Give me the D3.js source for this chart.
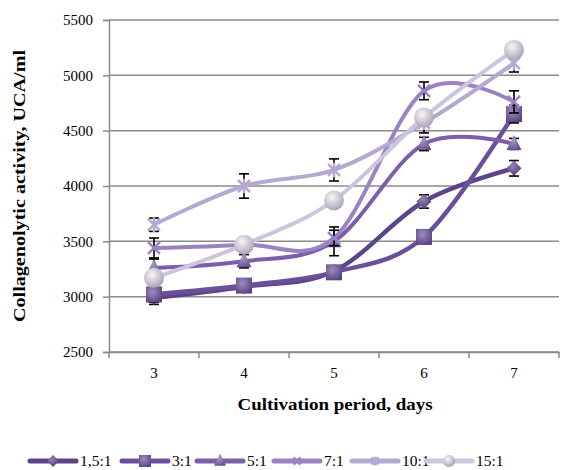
<!DOCTYPE html>
<html><head><meta charset="utf-8">
<script src="https://cdn.jsdelivr.net/npm/d3@7"></script>
<style>body{margin:0;background:#fff}svg{display:block}svg text{font-family:"Liberation Serif","Times New Roman","DejaVu Serif",serif !important;fill:#000}</style>
</head><body><svg id="c" width="562" height="470" font-family="Liberation Serif"></svg>
<script>
const days = [3, 4, 5, 6, 7];
const seriesNames = ["1,5:1", "3:1", "5:1", "7:1", "10:1", "15:1"];
const v15 = [2990, 3090, 3230, 3860, 4160];
const v3 = [3020, 3100, 3220, 3540, 4650];
const v5 = [3260, 3320, 3500, 4380, 4380];
const v7 = [3440, 3470, 3530, 4860, 4760];
const v10 = [3650, 4000, 4145, 4570, 5110];
const v15b = [3170, 3470, 3870, 4620, 5230];
const e15 = [60, 50, 50, 60, 70];
const e3 = [70, 50, 50, 60, 80];
const e5 = [80, 60, 130, 60, 50];
const e7 = [90, 70, 70, 80, 100];
const e10 = [60, 110, 100, 90, 80];
const e15b = [60, 60, 50, 60, 70];
const yTicks = [2500, 3000, 3500, 4000, 4500, 5000, 5500];

const values = [v15, v3, v5, v7, v10, v15b];
const errors = [e15, e3, e5, e7, e10, e15b];
const colors = ["#5c4488", "#6a4f9b", "#7b5fab", "#9983c1", "#b6a9d1", "#cdc5de"];
const markers = ["diamond", "square", "triangle", "x", "star", "circle"];
const widths = [4.5, 4.5, 4, 4, 4, 4];

const svg = d3.select("#c");
const L = 109, R = 559, T = 20, B = 352;
const x = d3.scaleBand().domain(days).range([L, R]);
const y = d3.scaleLinear().domain([2500, 5500]).range([B, T]);
const cx = d => x(d) + x.bandwidth() / 2;

const defs = svg.append("defs");
colors.forEach((c, i) => {
  const g = defs.append("radialGradient").attr("id", "g" + i).attr("cx", "40%").attr("cy", "35%").attr("r", "70%");
  g.append("stop").attr("offset", "0%").attr("stop-color", d3.interpolateRgb(c, "#fff")(i === 5 ? 0.85 : 0.35));
  g.append("stop").attr("offset", "100%").attr("stop-color", d3.color(c).darker(i === 5 ? 0.6 : 0.5));
});

// gridlines
svg.append("g").selectAll("line").data(yTicks).join("line")
  .attr("x1", L).attr("x2", R).attr("y1", d => y(d)).attr("y2", d => y(d))
  .attr("stroke", "#8a8a8a").attr("stroke-width", 1.5);

// axes
const ya = svg.append("g").attr("transform", `translate(${L},0)`)
  .call(d3.axisLeft(y).tickValues(yTicks).tickFormat(d3.format("d")).tickSize(6).tickPadding(10));
ya.attr("font-family", null);
ya.select(".domain").attr("stroke", "#8a8a8a").attr("stroke-width", 1.5);
ya.selectAll(".tick line").attr("stroke", "#8a8a8a").attr("stroke-width", 1.5);
ya.selectAll("text").style("font-size", "15px").attr("fill", "#000");

const xa = svg.append("g").attr("transform", `translate(0,${B})`)
  .call(d3.axisBottom(x).tickSize(0).tickPadding(15));
xa.attr("font-family", null);
xa.select(".domain").attr("stroke", "#8a8a8a").attr("stroke-width", 1.5);
xa.selectAll("text").style("font-size", "15px").attr("fill", "#000");
const bounds = days.map(d => x(d)).concat([R]);
svg.append("g").selectAll("line").data(bounds).join("line")
  .attr("x1", d => d).attr("x2", d => d).attr("y1", B).attr("y2", B + 6)
  .attr("stroke", "#8a8a8a").attr("stroke-width", 1.5);

// titles
svg.append("text").attr("x", 335).attr("y", 410).attr("text-anchor", "middle")
  .attr("textLength", 195).attr("lengthAdjust", "spacingAndGlyphs")
  .style("font-size", "16px").style("font-weight", "bold").text("Cultivation period, days");
svg.append("text").attr("transform", "translate(25,186) rotate(-90)").attr("text-anchor", "middle")
  .attr("textLength", 272).attr("lengthAdjust", "spacingAndGlyphs")
  .style("font-size", "16px").style("font-weight", "bold").text("Collagenolytic activity, UCA/ml");

function drawMarker(g, type, i, px, py, s) {
  const fill = `url(#g${i})`;
  if (type === "diamond") {
    g.append("path").attr("d", `M${px},${py - s}L${px + s},${py}L${px},${py + s}L${px - s},${py}Z`).attr("fill", fill);
  } else if (type === "square") {
    g.append("rect").attr("x", px - s).attr("y", py - s).attr("width", 2 * s).attr("height", 2 * s).attr("fill", fill);
  } else if (type === "triangle") {
    g.append("path").attr("d", `M${px},${py - s * 1.2}L${px + s},${py + s * 0.8}L${px - s},${py + s * 0.8}Z`).attr("fill", fill);
  } else if (type === "x") {
    g.append("path").attr("d", `M${px - s},${py - s}L${px + s},${py + s}M${px - s},${py + s}L${px + s},${py - s}`)
      .attr("stroke", colors[i]).attr("stroke-width", 2.5);
  } else if (type === "star") {
    g.append("path").attr("d", `M${px - s},${py - s}L${px + s},${py + s}M${px - s},${py + s}L${px + s},${py - s}M${px},${py - s * 1.2}L${px},${py + s * 1.2}`)
      .attr("stroke", colors[i]).attr("stroke-width", 2.5);
  } else {
    g.append("circle").attr("cx", px).attr("cy", py).attr("r", s).attr("fill", fill);
  }
}
const msize = [7.5, 8, 7.5, 6, 6, 10];

const line = d3.line().x((d, j) => cx(days[j])).y(d => y(d)).curve(d3.curveCardinal.tension(0));
values.forEach((vals, i) => {
  const g = svg.append("g");
  g.append("path").attr("d", line(vals)).attr("fill", "none").attr("stroke", colors[i])
    .attr("stroke-width", widths[i]).attr("stroke-linecap", "round");
  vals.forEach((v, j) => {
    const px = cx(days[j]), e = errors[i][j];
    const eb = g.append("g").attr("stroke", "#000").attr("stroke-width", 1.6);
    eb.append("line").attr("x1", px).attr("x2", px).attr("y1", y(v + e)).attr("y2", y(v - e));
    eb.append("line").attr("x1", px - 5).attr("x2", px + 5).attr("y1", y(v + e)).attr("y2", y(v + e));
    eb.append("line").attr("x1", px - 5).attr("x2", px + 5).attr("y1", y(v - e)).attr("y2", y(v - e));
    drawMarker(g, markers[i], i, px, y(v), msize[i]);
  });
});

// legend
const legX = [30, 122, 197, 274, 352, 426];
const ly = 461;
seriesNames.forEach((n, i) => {
  const g = svg.append("g");
  g.append("line").attr("x1", legX[i]).attr("x2", legX[i] + 46).attr("y1", ly).attr("y2", ly)
    .attr("stroke", colors[i]).attr("stroke-width", 5).attr("stroke-linecap", "round");
  drawMarker(g, markers[i], i, legX[i] + 23, ly, markers[i] === "x" || markers[i] === "star" ? 3.5 : 6);
  g.append("text").attr("x", legX[i] + 50).attr("y", ly + 5).style("font-size", "15.5px").text(n);
});
</script></body></html>
